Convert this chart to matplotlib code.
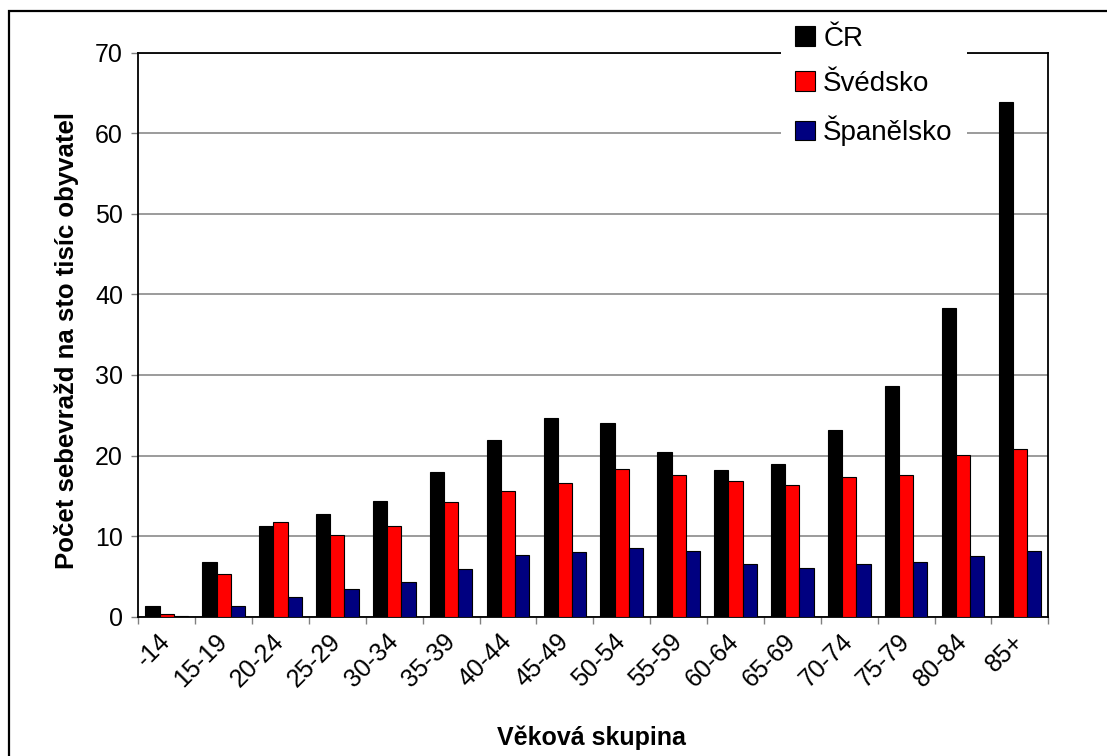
import numpy as np
import matplotlib
matplotlib.use('Agg')
import matplotlib.pyplot as plt
from matplotlib.patches import Rectangle

plt.rcParams['font.family'] = ['Liberation Sans', 'DejaVu Sans']

# data
groups = ['-14', '15-19', '20-24', '25-29', '30-34', '35-39', '40-44', '45-49',
          '50-54', '55-59', '60-64', '65-69', '70-74', '75-79', '80-84', '85+']
cr      = [1.3, 6.8, 11.2, 12.7, 14.4, 17.9, 21.9, 24.6,
           24.1, 20.4, 18.2, 18.9, 23.2, 28.6, 38.3, 63.9]
svedsko = [0.3, 5.3, 11.7, 10.2, 11.2, 14.2, 15.6, 16.6,
           18.3, 17.6, 16.9, 16.4, 17.4, 17.6, 20.1, 20.8]
spanel  = [0.05, 1.3, 2.5, 3.5, 4.3, 5.9, 7.7, 8.0,
           8.5, 8.2, 6.5, 6.0, 6.5, 6.8, 7.5, 8.2]

W, H = 1107, 756
fig = plt.figure(figsize=(W / 100, H / 100), dpi=100)
ax = fig.add_axes([138.3 / W, (H - 616.7) / H, 910 / W, 564 / H])

x = np.arange(len(groups))
bw = 0.25
ax.bar(x - bw, cr, bw, color='black', edgecolor='black', linewidth=0.8, label='ČR', zorder=3)
ax.bar(x, svedsko, bw, color='#ff0000', edgecolor='black', linewidth=0.8, label='Švédsko', zorder=3)
ax.bar(x + bw, spanel, bw, color='#000080', edgecolor='black', linewidth=0.8, label='Španělsko', zorder=3)

ax.set_xlim(-0.5, len(groups) - 0.5)
ax.set_ylim(0, 70)
ax.set_yticks(np.arange(0, 71, 10))
ax.yaxis.grid(True, color='#808080', linewidth=1.1)
ax.set_axisbelow(True)

# ticks between categories, labels at category centres
ax.set_xticks(np.arange(-0.5, len(groups), 1.0))
ax.set_xticklabels([])
ax.set_xticks(x, minor=True)
ax.set_xticklabels(groups, minor=True, rotation=45, ha='right', va='center',
                   rotation_mode='anchor', fontsize=18)
ax.tick_params(axis='x', which='minor', length=0, pad=15)
ax.tick_params(axis='x', which='major', length=5, width=1, color='#808080', direction='out')
ax.tick_params(axis='y', length=5, width=1, color='#808080', direction='out', labelsize=18, pad=6)

for s in ax.spines.values():
    s.set_linewidth(1.3)
    s.set_color('black')

ax.set_ylabel('Počet sebevražd na sto tisíc obyvatel', fontsize=18.5, fontweight='bold')
ax.yaxis.set_label_coords((67 - 138.3) / 910, 0.489)
ax.set_xlabel('Věková skupina', fontsize=18, fontweight='bold')
ax.xaxis.set_label_coords((591.5 - 138.3) / 910, (616.7 - 738) / 564)
ax.xaxis.label.set_va('center')
ax.yaxis.label.set_va('center')

leg = ax.legend(loc='upper left', bbox_to_anchor=(781 / W, 1 - 12 / H),
                bbox_transform=fig.transFigure, fontsize=20, frameon=True,
                fancybox=False, framealpha=1, edgecolor='white',
                handlelength=0.72, handleheight=0.72, handletextpad=0.3,
                labelspacing=0.68, borderpad=0.5, borderaxespad=0)
leg.get_frame().set_linewidth(0)
leg.set_zorder(10)

# outer chart frame (right and bottom edges fall outside the picture)
fig.add_artist(Rectangle((9 / W, -0.1), 1.2, 1.1 - 11 / H, transform=fig.transFigure,
                         fill=False, edgecolor='black', linewidth=1.6))

fig.savefig('out.png', dpi=100)
